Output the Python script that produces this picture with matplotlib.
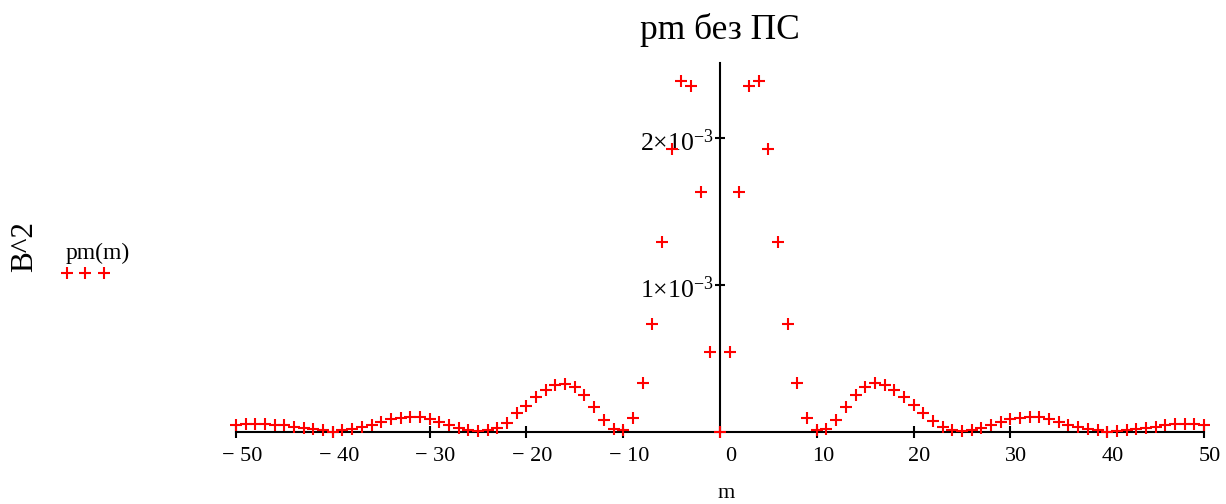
import numpy as np
import matplotlib
matplotlib.use('Agg')
import matplotlib.pyplot as plt
import matplotlib.transforms as mtransforms

FONT = 'Liberation Serif'
plt.rcParams.update({
    'font.family': FONT,
    'mathtext.fontset': 'custom',
    'mathtext.rm': FONT,
    'mathtext.it': FONT + ':italic',
    'mathtext.bf': FONT + ':bold',
})

# data (values in units of 1e-3)
m = np.arange(-50, 51)
pm_left = [0.045, 0.052, 0.052, 0.050, 0.045, 0.041, 0.034, 0.027, 0.016, 0.007,
           0.000, 0.007, 0.016, 0.029, 0.045, 0.068, 0.084, 0.095, 0.100, 0.098,
           0.084, 0.063, 0.045, 0.023, 0.011, 0.005, 0.007, 0.023, 0.061, 0.125,
           0.175, 0.238, 0.279, 0.313, 0.324, 0.306, 0.249, 0.170, 0.079, 0.016,
           0.007, 0.091, 0.328, 0.729, 1.291, 1.922, 2.384, 2.352, 1.631, 0.541]
pm_zero = [0.0]
pm_right = [0.541, 1.631, 2.352, 2.384, 1.922, 1.291, 0.729, 0.328, 0.091, 0.011,
            0.018, 0.079, 0.170, 0.249, 0.306, 0.329, 0.317, 0.283, 0.238, 0.181,
            0.129, 0.074, 0.034, 0.011, 0.005, 0.011, 0.023, 0.041, 0.063, 0.084,
            0.095, 0.102, 0.098, 0.086, 0.063, 0.045, 0.029, 0.018, 0.007, 0.000,
            0.005, 0.007, 0.018, 0.027, 0.034, 0.041, 0.050, 0.052, 0.052, 0.045]
pm = np.array(pm_left + pm_zero + pm_right) * 1e-3

xticks = [-50, -40, -30, -20, -10, 0, 10, 20, 30, 40, 50]
xticklabels = ['\u2212 50', '\u2212 40', '\u2212 30', '\u2212 20', '\u2212 10', '0',
               '10', '20', '30', '40', '50']
yticks = [1e-3, 2e-3]
yticklabels = [r'$1{\times}10^{-3}$', r'$2{\times}10^{-3}$']

W, H = 1226, 504
fig = plt.figure(figsize=(W / 100, H / 100), dpi=100)
ax = fig.add_axes([236 / W, 1 - 431.5 / H, (1204 - 236) / W, (431.5 - 63.3) / H])

ax.plot(m, pm, ls='none', marker='+', ms=8.8, mew=1.5, color='#FF0000',
        clip_on=False, zorder=5)

ax.set_xlim(-50, 50)
ax.set_ylim(0, 2.505e-3)
for s in ['top', 'right']:
    ax.spines[s].set_visible(False)
ax.spines['left'].set_position(('data', 0))
for s in ['left', 'bottom']:
    ax.spines[s].set_linewidth(1.5)
    ax.spines[s].set_zorder(3)

ax.set_xticks(xticks)
ax.set_xticklabels(xticklabels, fontsize=16)
ax.set_yticks(yticks)
ax.set_yticklabels(yticklabels, fontsize=18.5)
ax.tick_params(axis='x', direction='inout', length=9, width=1.5, pad=7)
ax.tick_params(axis='y', direction='inout', length=7, width=1.5, pad=1)

# nudge x tick labels to the right like the original
for lab, v in zip(ax.get_xticklabels(), xticks):
    dx = 11 if v == 0 else 6
    lab.set_transform(lab.get_transform() +
                      mtransforms.ScaledTranslation(dx / 100, 0, fig.dpi_scale_trans))
for lab in ax.get_yticklabels():
    lab.set_transform(lab.get_transform() +
                      mtransforms.ScaledTranslation(0, -3 / 100, fig.dpi_scale_trans))

fig.text(720 / W, 1 - 30 / H, 'pm без ПС', ha='center', va='center', fontsize=25.5)
fig.text(726 / W, 1 - 494 / H, 'm', ha='center', va='center', fontsize=16)
fig.text(25 / W, 1 - 247 / H, 'B^2', ha='center', va='center', rotation=90, fontsize=22.5)

# legend
fig.text(98 / W, 1 - 253 / H, 'pm(m)', ha='center', va='center', fontsize=17)
leg_x = np.array([66.7, 85.0, 104.3]) / W
fig.add_artist(matplotlib.lines.Line2D(leg_x, [1 - 272.7 / H] * 3, ls='none', marker='+',
                                       ms=8.8, mew=1.5, color='#FF0000',
                                       transform=fig.transFigure))

fig.savefig('out.png', dpi=100, facecolor='white')
